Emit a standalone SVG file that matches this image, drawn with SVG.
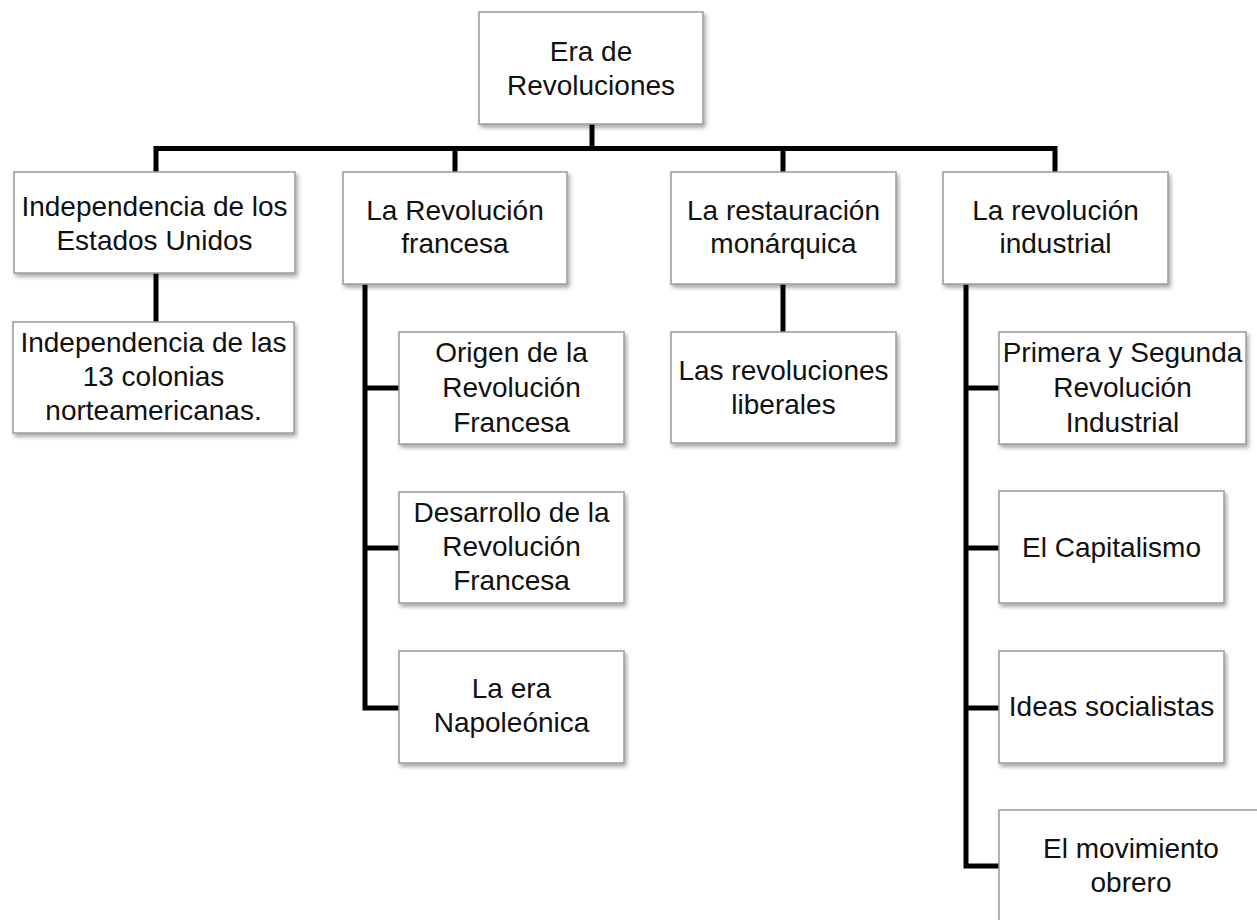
<svg xmlns="http://www.w3.org/2000/svg" width="1257" height="920" viewBox="0 0 1257 920">
<defs>
<filter id="sh" x="-10%" y="-10%" width="130%" height="130%">
<feDropShadow dx="2" dy="3" stdDeviation="2" flood-color="#000" flood-opacity="0.35"/>
</filter>
<style>
.box{fill:#fff;stroke:#9a9a9a;stroke-width:1.5;filter:url(#sh)}
.t{font-family:"Liberation Sans",Arial,sans-serif;font-size:28px;fill:#111;text-anchor:middle}
.c{fill:none;stroke:#000;stroke-width:5;stroke-linejoin:miter;stroke-linecap:butt}
</style>
</defs>
<rect width="1257" height="920" fill="#fff"/>
<g id="connectors">
<path class="c" d="M592 124V148.5"/>
<path class="c" d="M156 172V148.5H1055V172"/>
<path class="c" d="M455 148.5V172M783 148.5V172"/>
<path class="c" d="M156 273V322"/>
<path class="c" d="M783 284V332"/>
<path class="c" d="M365 284V708H399M365 388H399M365 548H399"/>
<path class="c" d="M966 284V866H999M966 388H999M966 548H999M966 708H999"/>
</g>
<g id="root"><rect class="box" x="479" y="12" width="224" height="112"/><text class="t" x="591" y="61">Era de</text><text class="t" x="591" y="95">Revoluciones</text></g>
<g id="n-eeuu"><rect class="box" x="14" y="172" width="281" height="101"/><text class="t" x="154.5" y="216">Independencia de los</text><text class="t" x="154.5" y="250">Estados Unidos</text></g>
<g id="n-13col"><rect class="box" x="13" y="322" width="281" height="111"/><text class="t" x="153.5" y="352">Independencia de las</text><text class="t" x="153.5" y="386">13 colonias</text><text class="t" x="153.5" y="420">norteamericanas.</text></g>
<g id="n-francesa"><rect class="box" x="343" y="172" width="224" height="112"/><text class="t" x="455" y="220">La Revolución</text><text class="t" x="455" y="253">francesa</text></g>
<g id="n-origen"><rect class="box" x="399" y="332" width="225" height="112"/><text class="t" x="511.5" y="362">Origen de la</text><text class="t" x="511.5" y="397">Revolución</text><text class="t" x="511.5" y="432">Francesa</text></g>
<g id="n-desarrollo"><rect class="box" x="399" y="492" width="225" height="111"/><text class="t" x="511.5" y="522">Desarrollo de la</text><text class="t" x="511.5" y="556">Revolución</text><text class="t" x="511.5" y="590">Francesa</text></g>
<g id="n-napoleon"><rect class="box" x="399" y="651" width="225" height="112"/><text class="t" x="511.5" y="698">La era</text><text class="t" x="511.5" y="732">Napoleónica</text></g>
<g id="n-restauracion"><rect class="box" x="671" y="172" width="225" height="112"/><text class="t" x="783.5" y="220">La restauración</text><text class="t" x="783.5" y="253">monárquica</text></g>
<g id="n-liberales"><rect class="box" x="671" y="332" width="225" height="111"/><text class="t" x="783.5" y="380">Las revoluciones</text><text class="t" x="783.5" y="414">liberales</text></g>
<g id="n-industrial"><rect class="box" x="943" y="172" width="225" height="112"/><text class="t" x="1055.5" y="220">La revolución</text><text class="t" x="1055.5" y="253">industrial</text></g>
<g id="n-primera"><rect class="box" x="999" y="332" width="247" height="112"/><text class="t" x="1122.5" y="362">Primera y Segunda</text><text class="t" x="1122.5" y="397">Revolución</text><text class="t" x="1122.5" y="432">Industrial</text></g>
<g id="n-capitalismo"><rect class="box" x="999" y="491" width="225" height="112"/><text class="t" x="1111.5" y="557">El Capitalismo</text></g>
<g id="n-socialistas"><rect class="box" x="999" y="651" width="225" height="112"/><text class="t" x="1111.5" y="716">Ideas socialistas</text></g>
<g id="n-obrero"><rect class="box" x="999" y="810" width="264" height="120"/><text class="t" x="1131" y="858">El movimiento</text><text class="t" x="1131" y="892">obrero</text></g>
</svg>
